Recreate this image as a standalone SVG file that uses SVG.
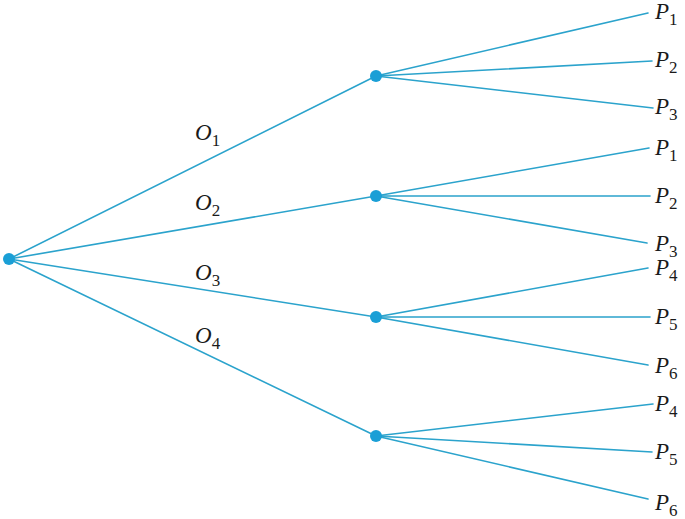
<svg xmlns="http://www.w3.org/2000/svg" width="685" height="519" viewBox="0 0 685 519">
<style>
.e{stroke:#2ba3cc;stroke-width:1.6;fill:none;stroke-linecap:round}
.n{fill:#1a9fd6}
.t{font-family:"Liberation Serif","Times New Roman",serif;font-style:italic;font-size:23px;fill:#1a1a1a}
.s{font-style:normal;font-size:17px}
</style>
<rect width="685" height="519" fill="#ffffff"/>
<g id="connectors">
<line class="e" x1="9" y1="259" x2="376" y2="76"/>
<line class="e" x1="9" y1="259" x2="376" y2="196"/>
<line class="e" x1="9" y1="259" x2="376" y2="317"/>
<line class="e" x1="9" y1="259" x2="376" y2="436"/>
<line class="e" x1="376" y1="76" x2="648" y2="13"/>
<line class="e" x1="376" y1="76" x2="652" y2="61"/>
<line class="e" x1="376" y1="76" x2="653" y2="108"/>
<line class="e" x1="376" y1="196" x2="649" y2="148"/>
<line class="e" x1="376" y1="196" x2="650" y2="196"/>
<line class="e" x1="376" y1="196" x2="647" y2="243"/>
<line class="e" x1="376" y1="317" x2="648" y2="268"/>
<line class="e" x1="376" y1="317" x2="650" y2="317"/>
<line class="e" x1="376" y1="317" x2="648" y2="365"/>
<line class="e" x1="376" y1="436" x2="653" y2="404"/>
<line class="e" x1="376" y1="436" x2="652" y2="452"/>
<line class="e" x1="376" y1="436" x2="648" y2="499"/>
</g>
<g id="edge-labels">
<text class="t" x="195" y="140">O<tspan class="s" dy="6">1</tspan></text>
<text class="t" x="195" y="210">O<tspan class="s" dy="6">2</tspan></text>
<text class="t" x="195" y="280">O<tspan class="s" dy="6">3</tspan></text>
<text class="t" x="195" y="343">O<tspan class="s" dy="6">4</tspan></text>
</g>
<g id="root"><circle class="n" cx="9" cy="259" r="6"/></g>
<g id="n1"><circle class="n" cx="376" cy="76" r="6"/></g>
<g id="n2"><circle class="n" cx="376" cy="196" r="6"/></g>
<g id="n3"><circle class="n" cx="376" cy="317" r="6"/></g>
<g id="n4"><circle class="n" cx="376" cy="436" r="6"/></g>
<g id="leaf-1-1"><text class="t" x="655" y="19">P<tspan class="s" dy="6">1</tspan></text></g>
<g id="leaf-1-2"><text class="t" x="655" y="67">P<tspan class="s" dy="6">2</tspan></text></g>
<g id="leaf-1-3"><text class="t" x="655" y="114">P<tspan class="s" dy="6">3</tspan></text></g>
<g id="leaf-2-1"><text class="t" x="655" y="155">P<tspan class="s" dy="6">1</tspan></text></g>
<g id="leaf-2-2"><text class="t" x="655" y="203">P<tspan class="s" dy="6">2</tspan></text></g>
<g id="leaf-2-3"><text class="t" x="655" y="251">P<tspan class="s" dy="6">3</tspan></text></g>
<g id="leaf-3-4"><text class="t" x="655" y="275">P<tspan class="s" dy="6">4</tspan></text></g>
<g id="leaf-3-5"><text class="t" x="655" y="324">P<tspan class="s" dy="6">5</tspan></text></g>
<g id="leaf-3-6"><text class="t" x="655" y="373">P<tspan class="s" dy="6">6</tspan></text></g>
<g id="leaf-4-4"><text class="t" x="655" y="411">P<tspan class="s" dy="6">4</tspan></text></g>
<g id="leaf-4-5"><text class="t" x="655" y="459">P<tspan class="s" dy="6">5</tspan></text></g>
<g id="leaf-4-6"><text class="t" x="655" y="510">P<tspan class="s" dy="6">6</tspan></text></g>
</svg>
